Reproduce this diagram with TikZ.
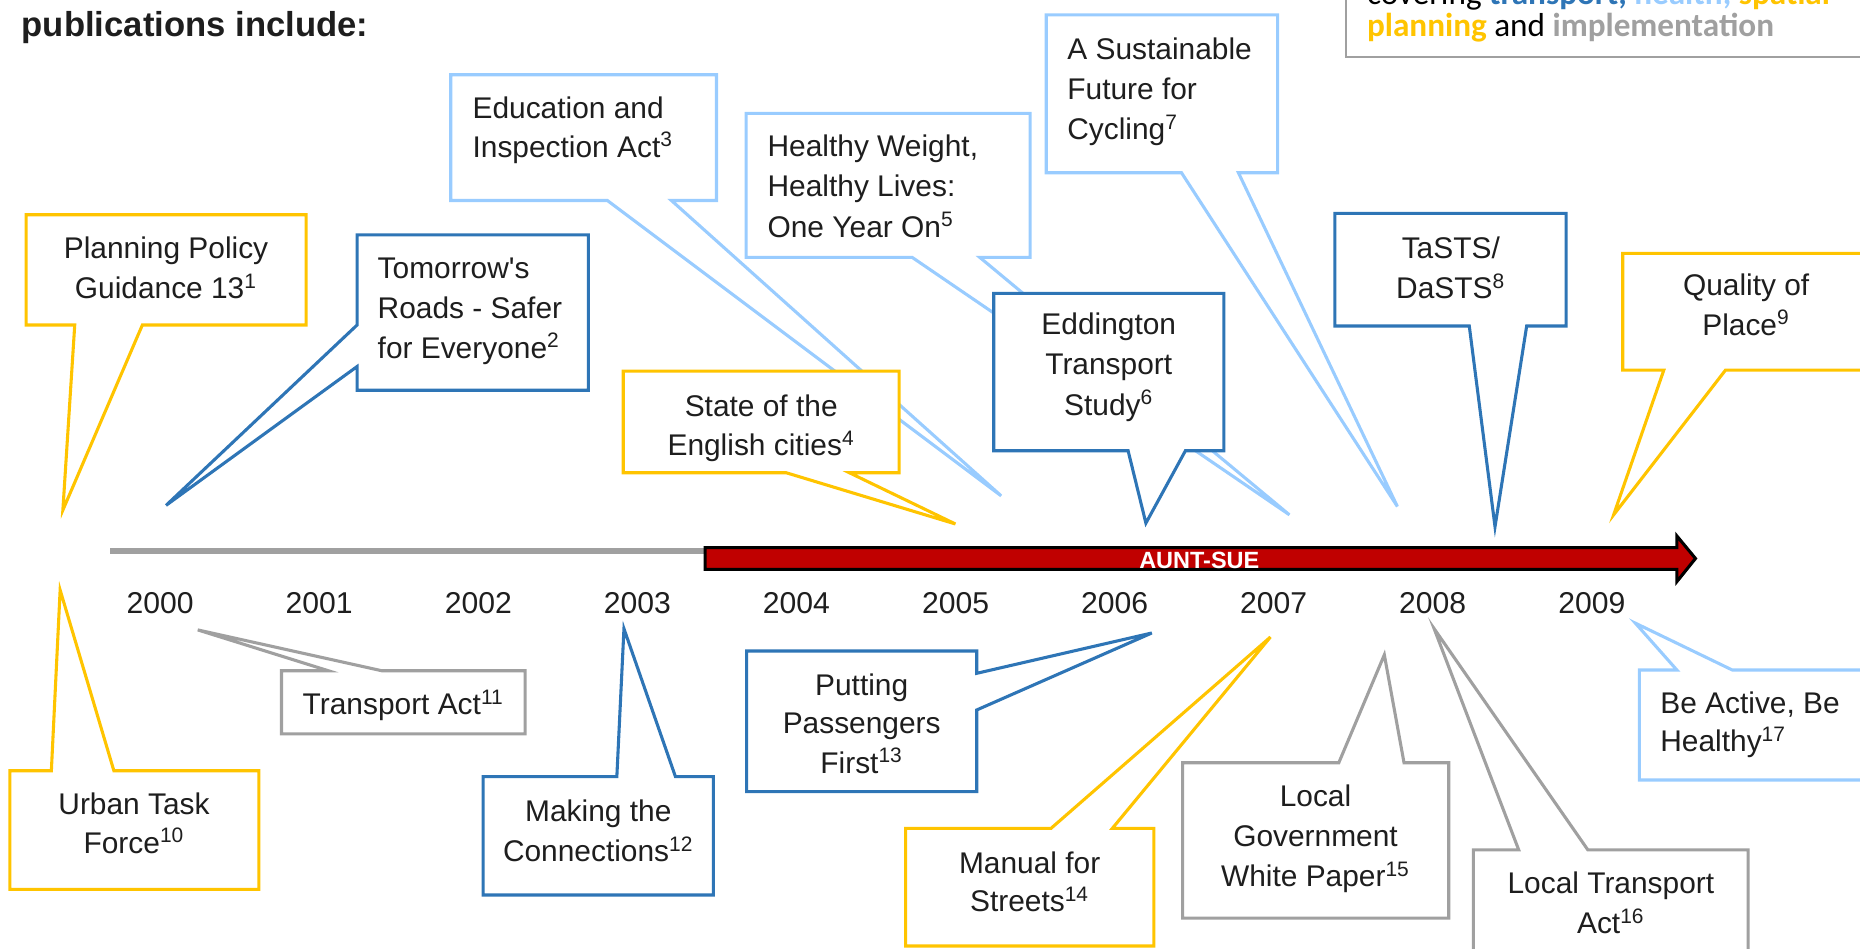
\documentclass[tikz,border=0pt]{standalone}
\usepackage{fontspec}
\setmainfont{Liberation Sans}
\newfontfamily\lsansplain{Liberation Sans}
\newfontfamily\calib{Carlito}
\definecolor{dkblue}{RGB}{46,117,182}
\definecolor{ltblue}{RGB}{153,204,255}
\definecolor{ylw}{RGB}{255,196,0}
\definecolor{gry}{RGB}{160,160,160}
\definecolor{redarr}{RGB}{192,0,0}
\definecolor{txt}{RGB}{30,30,30}
\begin{document}
\begin{tikzpicture}[x=0.5pt,y=-0.5pt,line join=miter,
  callout/.style={fill=white,line width=1.3pt},
  cy/.style={callout,draw=ylw},
  cd/.style={callout,draw=dkblue},
  cl/.style={callout,draw=ltblue},
  cg/.style={callout,draw=gry},
  lbl/.style={font=\fontsize{12.6}{15}\selectfont,text=txt,inner sep=0pt,anchor=base},
  lblw/.style={lbl,anchor=base west},
  yr/.style={font=\fontsize{12.7}{15}\selectfont,text=txt,inner sep=0pt,anchor=base}]
\useasboundingbox (0,0) rectangle (1568,799.2);

% title
\node[anchor=base west,inner sep=0pt,font=\bfseries\fontsize{14.6}{17}\selectfont,text=txt] (title) at (18,31) {publications include:};

% legend box (partly outside)
\draw[draw=gry,line width=0.9pt,fill=white] (1135,-20) rectangle (1620,47.8);
\node[anchor=base west,inner sep=0pt,font=\calib\fontsize{14}{16}\selectfont] (leg1) at (1152,4.2)
  {covering \textcolor{dkblue}{\bfseries transport,} \textcolor{ltblue}{\bfseries health,} \textcolor{ylw}{\bfseries spatial}};
\node[anchor=base west,inner sep=0pt,font=\calib\fontsize{14}{16}\selectfont] (leg2) at (1152,31)
  {\textcolor{ylw}{\bfseries planning} and \textcolor{gry}{\bfseries implementation}};

% tips
\coordinate (tip1) at (53,430);
\coordinate (tip2) at (140,426);
\coordinate (tip3) at (844,418);
\coordinate (tip4) at (1087,434);
\coordinate (tip5) at (1178,427);
\coordinate (tip6) at (966,441);
\coordinate (tip7) at (805.4,441.7);
\coordinate (tip8) at (1260.3,444);
\coordinate (tip9) at (1360.3,434);
\coordinate (tip10) at (50.7,497.4);
\coordinate (tip11) at (166.7,531);
\coordinate (tip12) at (526,530);
\coordinate (tip13) at (971,533.6);
\coordinate (tip14) at (1071,537);
\coordinate (tip15) at (1167,552);
\coordinate (tip16) at (1209,530);
\coordinate (tip17) at (1378.6,525.3);

% 1 Planning Policy Guidance
\draw[cy] (22,181) -- (258,181) -- (258,274) -- (120,274) -- (tip1) -- (63,274) -- (22,274) -- cycle;
\node[lbl] (t1a) at (140,218) {Planning Policy};
\node[lbl] (t1b) at (140,251.5) {Guidance 13\textsuperscript{1}};

% 2 Tomorrow's Roads
\draw[cd] (301,198) -- (496,198) -- (496,329) -- (301,329) -- (301,309) -- (tip2) -- (301,274) -- cycle;
\node[lblw] (t2a) at (318,235) {\lsansplain Tomorrow's};
\node[lblw] (t2b) at (318,268.5) {Roads - Safer};
\node[lblw] (t2c) at (318,302) {for Everyone\textsuperscript{2}};

% 3 Education and Inspection Act
\draw[cl] (380,63) -- (604,63) -- (604,169) -- (566,169) -- (tip3) -- (512,169) -- (380,169) -- cycle;
\node[lblw] (t3a) at (398,100) {Education and};
\node[lblw] (t3b) at (398,132.5) {Inspection Act\textsuperscript{3}};

% 4 Healthy Weight
\draw[cl] (629,95.5) -- (868.4,95.5) -- (868.4,217) -- (826,217) -- (tip4) -- (769,217) -- (629,217) -- cycle;
\node[lblw] (t4a) at (646.7,132) {Healthy Weight,};
\node[lblw] (t4b) at (646.7,166) {Healthy Lives:};
\node[lblw] (t4c) at (646.7,200) {One Year On\textsuperscript{5}};

% 5 Sustainable Future for Cycling
\draw[cl] (882,12.6) -- (1077,12.6) -- (1077,145.6) -- (1044,145.6) -- (tip5) -- (996,145.6) -- (882,145.6) -- cycle;
\node[lblw] (t5a) at (899.4,50.5) {A Sustainable};
\node[lblw] (t5b) at (899.4,84) {Future for};
\node[lblw] (t5c) at (899.4,117.5) {Cycling\textsuperscript{7}};

% 6 Eddington
\draw[cd] (837.7,247.3) -- (1031.7,247.3) -- (1031.7,380) -- (999.3,380) -- (tip6) -- (951,380) -- (837.7,380) -- cycle;
\node[lbl] (t6a) at (934.7,282) {Eddington};
\node[lbl] (t6b) at (934.7,316) {Transport};
\node[lbl] (t6c) at (934.7,350) {Study\textsuperscript{6}};

% 7 State of the English cities
\draw[cy] (525.4,312.8) -- (758,312.8) -- (758,398.5) -- (716,398.5) -- (tip7) -- (662.7,398.5) -- (525.4,398.5) -- cycle;
\node[lbl] (t7a) at (641.7,351) {State of the};
\node[lbl] (t7b) at (641.7,384) {English cities\textsuperscript{4}};

% 8 TaSTS/DaSTS
\draw[cd] (1125.3,179.8) -- (1320.3,179.8) -- (1320.3,274.8) -- (1287,274.8) -- (tip8) -- (1238.6,274.8) -- (1125.3,274.8) -- cycle;
\node[lbl] (t8a) at (1223,217.8) {TaSTS/};
\node[lbl] (t8b) at (1223,251.5) {DaSTS\textsuperscript{8}};

% 9 Quality of Place
\draw[cy] (1368,213.6) -- (1600,213.6) -- (1600,312) -- (1454.6,312) -- (tip9) -- (1402.6,312) -- (1368,312) -- cycle;
\node[lbl] (t9a) at (1472,248.7) {Quality of};
\node[lbl] (t9b) at (1472,282.4) {Place\textsuperscript{9}};

% 10 Urban Task Force
\draw[cy] (8.3,649.7) -- (43.3,649.7) -- (tip10) -- (96,649.7) -- (218.3,649.7) -- (218.3,749.7) -- (8.3,749.7) -- cycle;
\node[lbl] (t10a) at (113,687) {Urban Task};
\node[lbl] (t10b) at (113,719.3) {Force\textsuperscript{10}};

% 11 Transport Act
\draw[cg] (237.3,565.4) -- (276.7,565.4) -- (tip11) -- (321.7,565.4) -- (442.7,565.4) -- (442.7,618.7) -- (237.3,618.7) -- cycle;
\node[lbl] (t11a) at (340,602.7) {Transport Act\textsuperscript{11}};

% 12 Making the Connections
\draw[cd] (407.3,654.7) -- (520,654.7) -- (tip12) -- (569.4,654.7) -- (601.4,654.7) -- (601.4,754.5) -- (407.3,754.5) -- cycle;
\node[lbl] (t12a) at (504.4,692.7) {Making the};
\node[lbl] (t12b) at (504.4,726.3) {Connections\textsuperscript{12}};

% 13 Putting Passengers First
\draw[cd] (629.4,548.8) -- (823.4,548.8) -- (823.4,567.6) -- (tip13) -- (823.4,598.5) -- (823.4,667.4) -- (629.4,667.4) -- cycle;
\node[lbl] (t13a) at (726.4,585.9) {Putting};
\node[lbl] (t13b) at (726.4,618.7) {Passengers};
\node[lbl] (t13c) at (726.4,651.9) {First\textsuperscript{13}};

% 14 Manual for Streets
\draw[cy] (763.4,698.3) -- (886,698.3) -- (tip14) -- (937.7,698.3) -- (972.7,698.3) -- (972.7,797.5) -- (763.4,797.5) -- cycle;
\node[lbl] (t14a) at (868,736.2) {Manual for};
\node[lbl] (t14b) at (868,768.5) {Streets\textsuperscript{14}};

% 15 Local Government White Paper
\draw[cg] (997,643) -- (1128.6,643) -- (tip15) -- (1183.6,643) -- (1221.3,643) -- (1221.3,774) -- (997,774) -- cycle;
\node[lbl] (t15a) at (1109,680) {Local};
\node[lbl] (t15b) at (1109,713.7) {Government};
\node[lbl] (t15c) at (1109,747.4) {White Paper\textsuperscript{15}};

% 16 Local Transport Act
\draw[cg] (1242,716.5) -- (1280.3,716.5) -- (tip16) -- (1338.6,716.5) -- (1473.6,716.5) -- (1473.6,810) -- (1242,810) -- cycle;
\node[lbl] (t16a) at (1358,753) {Local Transport};
\node[lbl] (t16b) at (1358,786.8) {Act\textsuperscript{16}};

% 17 Be Active, Be Healthy
\draw[cl] (1382,564.8) -- (1413.6,564.8) -- (tip17) -- (1460.3,564.8) -- (1600,564.8) -- (1600,657.5) -- (1382,657.5) -- cycle;
\node[lblw] (t17a) at (1399.3,601.3) {Be Active, Be};
\node[lblw] (t17b) at (1399.3,633.6) {Healthy\textsuperscript{17}};

% timeline
\coordinate (tlA) at (93,464.5);
\coordinate (tlB) at (1405,464.5);
\draw[gry,line width=2.8pt] (tlA) -- (tlB);

% red arrow
\draw[fill=redarr,draw=black,line width=1.3pt] (594.4,461.7) -- (1413.6,461.7) -- (1413.6,451.8) -- (1429.3,470.8) -- (1413.6,490.3) -- (1413.6,480) -- (594.4,480) -- cycle;
\node[anchor=base,inner sep=0pt,text=white,font=\bfseries\fontsize{9.9}{11}\selectfont] (aunt) at (1011,479) {AUNT-SUE};

% years
\foreach \i/\y in {0/2000,1/2001,2/2002,3/2003,4/2004,5/2005,6/2006,7/2007,8/2008,9/2009}
  \node[yr] (y\y) at (135+134.1*\i,517) {\y};
\end{tikzpicture}
\end{document}
